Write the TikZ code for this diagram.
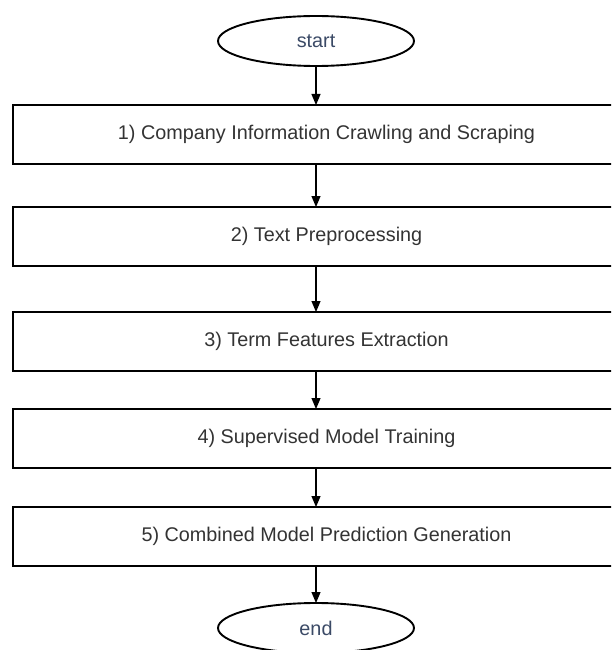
\documentclass[tikz,border=0pt]{standalone}
\usepackage{fontspec}
\setmainfont{Liberation Sans}
\usetikzlibrary{shapes.geometric,arrows.meta}
\definecolor{steptext}{HTML}{333333}
\definecolor{termtext}{HTML}{3B4A66}
\tikzset{
  stepbox/.style={draw=black, line width=1.9pt, rectangle, minimum width=627pt,
    minimum height=59pt, inner sep=0pt, outer sep=0pt, text=steptext,
    font=\fontsize{19.8}{24}\selectfont},
  terminal/.style={draw=black, line width=1.9pt, ellipse, minimum width=196pt,
    minimum height=50pt, inner sep=0pt, outer sep=0pt, text=termtext,
    font=\fontsize{19.8}{24}\selectfont},
  flow/.style={draw=black, line width=1.2pt, -{Triangle[width=9pt,length=11pt]}}
}
\begin{document}
\begin{tikzpicture}[x=1pt,y=-1pt]
  \useasboundingbox (0,0) rectangle (611,650);
  \begin{scope}
    \clip (0,0) rectangle (611,650);
    \node[terminal] (start) at (316,41) {start};
    \node[stepbox] (s1) at (326.5,134.5) {1) Company Information Crawling and Scraping};
    \node[stepbox] (s2) at (326.5,236.5) {2) Text Preprocessing};
    \node[stepbox] (s3) at (326.5,341.5) {3) Term Features Extraction};
    \node[stepbox] (s4) at (326.5,438.5) {4) Supervised Model Training};
    \node[stepbox] (s5) at (326.5,536.5) {5) Combined Model Prediction Generation};
    \node[terminal] (end) at (316,628) {end};
  \end{scope}
  \draw[flow] (start.south) -- (start.south |- s1.north);
  \draw[flow] (start.south |- s1.south) -- (start.south |- s2.north);
  \draw[flow] (start.south |- s2.south) -- (start.south |- s3.north);
  \draw[flow] (start.south |- s3.south) -- (start.south |- s4.north);
  \draw[flow] (start.south |- s4.south) -- (start.south |- s5.north);
  \draw[flow] (start.south |- s5.south) -- (end.north);
\end{tikzpicture}
\end{document}
